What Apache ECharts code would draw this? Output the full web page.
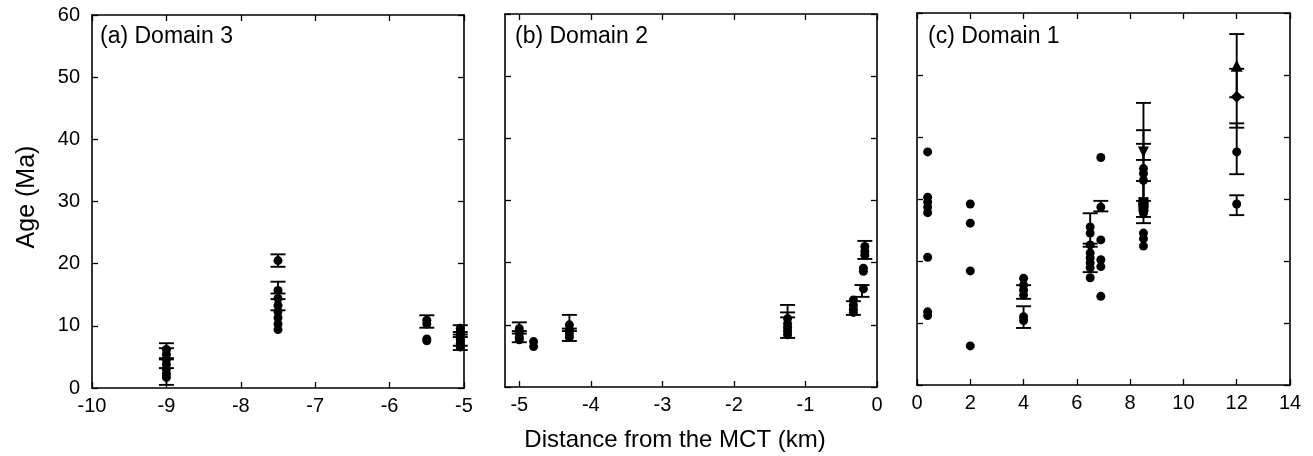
<!DOCTYPE html>
<html>
<head>
<meta charset="utf-8">
<script src="https://cdn.jsdelivr.net/npm/echarts@6/dist/echarts.min.js"></script>
<style>
  html, body { margin: 0; padding: 0; background: #fff; }
  #main { width: 1313px; height: 456px; }
</style>
</head>
<body>
<div id="main"></div>
<script>
// age data: [distance km, age Ma]
var ptsA = [
  [-9.0, 6.2], [-9.0, 5.4], [-9.0, 4.6], [-9.0, 3.8], [-9.0, 3.0], [-9.0, 2.3], [-9.0, 1.7],
  [-7.5, 20.5], [-7.5, 15.7], [-7.5, 14.4], [-7.5, 13.3], [-7.5, 12.3], [-7.5, 11.3], [-7.5, 10.3], [-7.5, 9.4],
  [-5.5, 10.9], [-5.5, 10.3], [-5.5, 7.9], [-5.5, 7.6],
  [-5.05, 9.6], [-5.05, 9.0], [-5.05, 8.4], [-5.05, 7.8], [-5.05, 7.2], [-5.05, 6.6]
];
// error bars: [distance, low, high]
var errA = [
  [-9.0, 4.8, 7.2], [-9.0, 3.2, 6.4], [-9.0, 0.5, 4.6],
  [-7.5, 19.5, 21.5], [-7.5, 14.3, 17.1], [-7.5, 12.5, 15.2],
  [-5.5, 9.7, 11.7],
  [-5.05, 8.6, 10.1], [-5.05, 6.1, 9.0], [-5.05, 6.8, 8.2]
];

var ptsB = [
  [-5.0, 9.4], [-5.0, 8.7], [-5.0, 8.0], [-5.0, 7.6],
  [-4.8, 7.3], [-4.8, 6.5],
  [-4.3, 10.0], [-4.3, 9.2], [-4.3, 8.6], [-4.3, 8.0],
  [-1.25, 11.0], [-1.25, 10.2], [-1.25, 9.6], [-1.25, 9.0], [-1.25, 8.4],
  [-0.33, 14.0], [-0.33, 13.2], [-0.33, 12.5], [-0.33, 12.0],
  [-0.19, 15.8], [-0.19, 19.1], [-0.19, 18.6],
  [-0.17, 22.6], [-0.17, 21.8], [-0.17, 21.2]
];
var errB = [
  [-5.0, 8.6, 10.4], [-5.0, 7.2, 9.0],
  [-4.3, 9.4, 11.6], [-4.3, 7.4, 9.0],
  [-1.25, 11.2, 13.2], [-1.25, 7.9, 12.0],
  [-0.33, 11.6, 13.8],
  [-0.21, 14.5, 16.4],
  [-0.17, 20.6, 23.5]
];

var ptsC = [
  [0.4, 37.6], [0.4, 30.3], [0.4, 29.5], [0.4, 28.7], [0.4, 27.8], [0.4, 20.6], [0.4, 11.8], [0.4, 11.2],
  [2, 29.2], [2, 26.1], [2, 18.4], [2, 6.3],
  [4, 17.2], [4, 16.1], [4, 15.3], [4, 14.5], [4, 11.0], [4, 10.4],
  [6.5, 25.5], [6.5, 24.5], [6.5, 22.6], [6.5, 21.3], [6.5, 20.5], [6.5, 19.7], [6.5, 18.9], [6.5, 17.3],
  [6.9, 36.7], [6.9, 28.7], [6.9, 23.4], [6.9, 20.2], [6.9, 19.1], [6.9, 14.3],
  [8.5, 34.9], [8.5, 34.1], [8.5, 33.0], [8.5, 27.7], [8.5, 24.5], [8.5, 23.6], [8.5, 22.4],
  [12, 37.6], [12, 29.2]
];
var sqC = [[8.5, 29.5], [8.5, 28.7]];
var triC = [[12, 51.5]];
var diaC = [[12, 46.5]];
var invTriC = [[8.5, 37.6]];
var errC = [
  [4, 13.9, 16.1], [4, 9.2, 12.7],
  [6.5, 22.3, 27.7], [6.5, 18.2, 22.8],
  [6.9, 28.0, 29.7],
  [8.5, 29.7, 45.5], [8.5, 27.1, 41.1], [8.5, 26.1, 32.9], [8.5, 36.3, 38.9],
  [12, 46.4, 56.6], [12, 41.5, 51.0], [12, 34.0, 42.2], [12, 27.4, 30.6]
];

var xTicksA = [-10, -9, -8, -7, -6, -5];
var xTicksB = [-5, -4, -3, -2, -1, 0];
var xTicksC = [0, 2, 4, 6, 8, 10, 12, 14];
var yTicks = [0, 10, 20, 30, 40, 50, 60];

var FONT = 'Liberation Sans, Arial, sans-serif';
var chart = echarts.init(document.getElementById('main'), null, { renderer: 'canvas' });

function xAx(grid, min, max, ticks, pos, labels) {
  return {
    type: 'value', gridIndex: grid, position: pos, min: min, max: max,
    splitLine: { show: false },
    axisLine: { show: true, onZero: false, lineStyle: { color: '#000', width: 1.6 } },
    axisTick: { show: true, inside: true, length: 6, customValues: ticks, lineStyle: { color: '#000', width: 1.3 } },
    axisLabel: { show: labels, customValues: ticks, color: '#000', fontSize: 20, fontFamily: FONT, margin: 8 }
  };
}
function yAx(grid, pos, labels) {
  return {
    type: 'value', gridIndex: grid, position: pos, min: 0, max: 60,
    splitLine: { show: false },
    axisLine: { show: true, onZero: false, lineStyle: { color: '#000', width: 1.6 } },
    axisTick: { show: true, inside: true, length: 6, customValues: yTicks, lineStyle: { color: '#000', width: 1.3 } },
    axisLabel: { show: labels, customValues: yTicks, color: '#000', fontSize: 20, fontFamily: FONT, margin: 12 }
  };
}

function errSeries(data, idx) {
  return {
    type: 'custom', xAxisIndex: idx, yAxisIndex: idx, data: data, silent: true, z: 2,
    encode: { x: 0, y: [1, 2] },
    renderItem: function (params, api) {
      var x = api.value(0);
      var top = api.coord([x, api.value(2)]);
      var bot = api.coord([x, api.value(1)]);
      var w = 7.5;
      var st = { stroke: '#000', lineWidth: 1.9 };
      return {
        type: 'group',
        children: [
          { type: 'line', shape: { x1: top[0], y1: top[1], x2: bot[0], y2: bot[1] }, style: st },
          { type: 'line', shape: { x1: top[0] - w, y1: top[1], x2: top[0] + w, y2: top[1] }, style: st },
          { type: 'line', shape: { x1: bot[0] - w, y1: bot[1], x2: bot[0] + w, y2: bot[1] }, style: st }
        ]
      };
    }
  };
}
function ptSeries(data, idx, symbol, size) {
  return {
    type: 'scatter', xAxisIndex: idx, yAxisIndex: idx, data: data, z: 3,
    symbol: symbol || 'circle', symbolSize: size || 9,
    itemStyle: { color: '#000', opacity: 1 }
  };
}

var option = {
  backgroundColor: '#fff',
  animation: false,
  textStyle: { fontFamily: FONT },
  grid: [
    { left: 92, top: 15, width: 372, height: 373 },
    { left: 505, top: 14, width: 372, height: 373 },
    { left: 917, top: 13, width: 373, height: 372 }
  ],
  xAxis: [
    xAx(0, -10, -5, xTicksA, 'bottom', true),
    xAx(0, -10, -5, xTicksA, 'top', false),
    xAx(1, -5.2, 0, xTicksB, 'bottom', true),
    xAx(1, -5.2, 0, xTicksB, 'top', false),
    xAx(2, 0, 14, xTicksC, 'bottom', true),
    xAx(2, 0, 14, xTicksC, 'top', false)
  ],
  yAxis: [
    yAx(0, 'left', true),
    yAx(0, 'right', false),
    yAx(1, 'left', false),
    yAx(1, 'right', false),
    yAx(2, 'left', false),
    yAx(2, 'right', false)
  ],
  graphic: [
    { type: 'text', left: 100, top: 25, style: { text: '(a) Domain 3', fontSize: 23, fontFamily: FONT, fill: '#000' } },
    { type: 'text', left: 515, top: 25, style: { text: '(b) Domain 2', fontSize: 23, fontFamily: FONT, fill: '#000' } },
    { type: 'text', left: 928, top: 25, style: { text: '(c) Domain 1', fontSize: 23, fontFamily: FONT, fill: '#000' } },
    { type: 'text', x: 675, y: 440, style: { text: 'Distance from the MCT (km)', fontSize: 24, fontFamily: FONT, fill: '#000', textAlign: 'center', textVerticalAlign: 'middle' } },
    { type: 'text', x: 27, y: 197, rotation: Math.PI / 2, style: { text: 'Age (Ma)', fontSize: 25, fontFamily: FONT, fill: '#000', textAlign: 'center', textVerticalAlign: 'middle' } }
  ],
  series: [
    errSeries(errA, 0), ptSeries(ptsA, 0),
    errSeries(errB, 2), ptSeries(ptsB, 2),
    errSeries(errC, 4), ptSeries(ptsC, 4),
    ptSeries(sqC, 4, 'rect', 10),
    ptSeries(triC, 4, 'triangle', 12),
    ptSeries(diaC, 4, 'diamond', 12),
    ptSeries(invTriC, 4, 'path://M0,0 L10,0 L5,9 Z', 11)
  ]
};
chart.setOption(option);
</script>
</body>
</html>
